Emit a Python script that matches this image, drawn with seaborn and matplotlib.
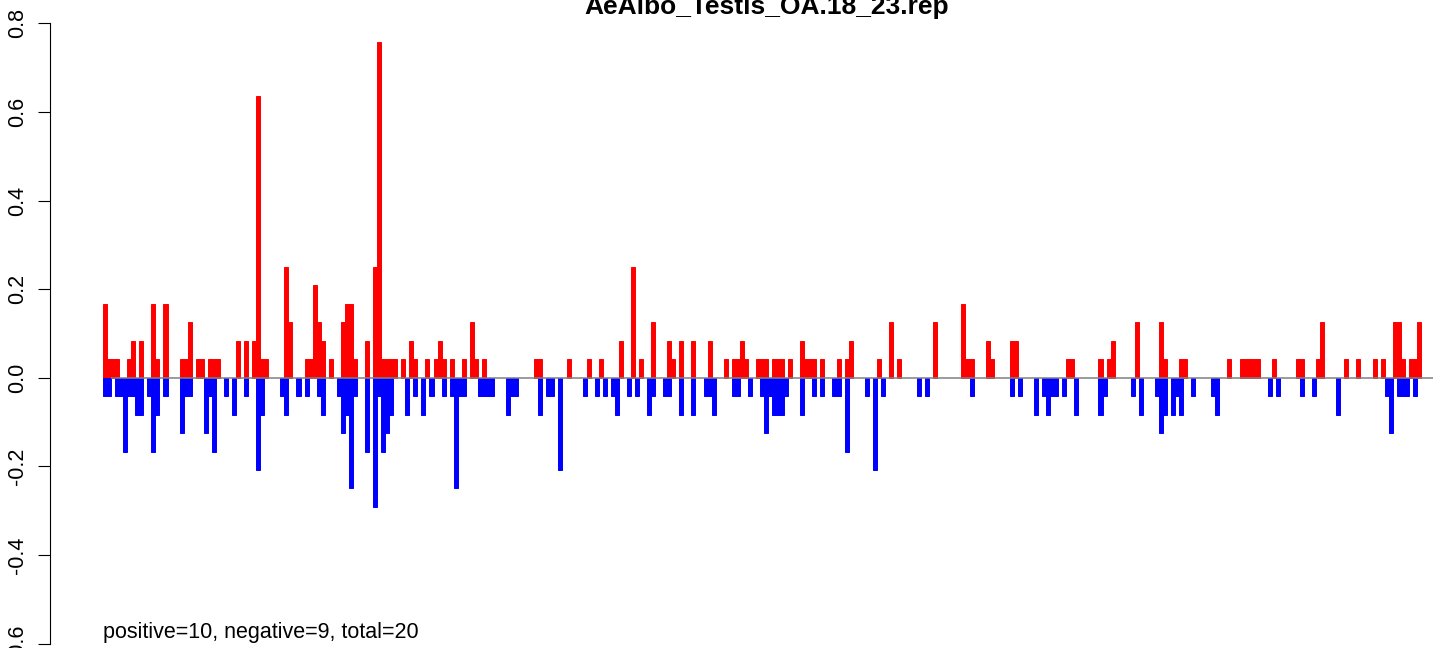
import numpy as np
import pandas as pd
import matplotlib
matplotlib.use("Agg")
import matplotlib.pyplot as plt
import seaborn as sns

plt.rcParams["font.family"] = ["Liberation Sans", "DejaVu Sans"]
plt.rcParams["axes.unicode_minus"] = False

# ---------------- data ----------------
title = "AeAlbo_Testis_OA.18_23.rep"
note = "positive=10, negative=9, total=20"
n_positions = 329
y_ticks = [-0.6, -0.4, -0.2, 0.0, 0.2, 0.4, 0.6, 0.8]
y_tick_labels = ["-0.6", "-0.4", "-0.2", "0.0", "0.2", "0.4", "0.6", "0.8"]

# positive-strand values (position index, value)
pos_idx = [0, 1, 2, 3, 6, 7, 9, 12, 13, 15,
           19, 20, 21, 23, 24, 26, 27, 28, 33, 35,
           37, 38, 39, 40, 45, 46, 50, 51, 52, 53,
           54, 56, 59, 60, 61, 62, 65, 67, 68, 69,
           70, 71, 72, 74, 76, 77, 80, 82, 83, 84,
           86, 89, 91, 92, 94, 107, 108, 115, 120, 123,
           128, 131, 133, 136, 140, 141, 143, 146, 150, 154,
           156, 157, 158, 159, 162, 163, 164, 166, 167, 168,
           170, 173, 174, 175, 176, 178, 182, 184, 185, 192,
           195, 197, 206, 213, 214, 215, 219, 220, 225, 226,
           239, 240, 247, 249, 250, 256, 262, 263, 267, 268,
           279, 282, 283, 284, 285, 286, 290, 296, 297, 301,
           302, 308, 311, 315, 317, 320, 321, 322, 324, 325,
           326]
pos_val = [0.1667, 0.0417, 0.0417, 0.0417, 0.0417, 0.0833, 0.0833, 0.1667, 0.0417, 0.1667,
           0.0417, 0.0417, 0.125, 0.0417, 0.0417, 0.0417, 0.0417, 0.0417, 0.0833, 0.0833,
           0.0833, 0.635, 0.0417, 0.0417, 0.25, 0.125, 0.0417, 0.0417, 0.2083, 0.125,
           0.0833, 0.0417, 0.125, 0.1667, 0.1667, 0.0417, 0.0833, 0.25, 0.758, 0.0417,
           0.0417, 0.0417, 0.0417, 0.0417, 0.0833, 0.0417, 0.0417, 0.0417, 0.0833, 0.0417,
           0.0417, 0.0417, 0.125, 0.0417, 0.0417, 0.0417, 0.0417, 0.0417, 0.0417, 0.0417,
           0.0833, 0.25, 0.0417, 0.125, 0.0833, 0.0417, 0.0833, 0.0833, 0.0833, 0.0417,
           0.0417, 0.0417, 0.0833, 0.0417, 0.0417, 0.0417, 0.0417, 0.0417, 0.0417, 0.0417,
           0.0417, 0.0833, 0.0417, 0.0417, 0.0417, 0.0417, 0.0417, 0.0417, 0.0833, 0.0417,
           0.125, 0.0417, 0.125, 0.1667, 0.0417, 0.0417, 0.0833, 0.0417, 0.0833, 0.0833,
           0.0417, 0.0417, 0.0417, 0.0417, 0.0833, 0.125, 0.125, 0.0417, 0.0417, 0.0417,
           0.0417, 0.0417, 0.0417, 0.0417, 0.0417, 0.0417, 0.0417, 0.0417, 0.0417, 0.0417,
           0.125, 0.0417, 0.0417, 0.0417, 0.0417, 0.125, 0.125, 0.0417, 0.0417, 0.0417,
           0.125]

# negative-strand values (position index, value)
neg_idx = [0, 1, 3, 4, 5, 6, 7, 8, 9, 11,
           12, 13, 15, 19, 20, 21, 25, 26, 27, 30,
           32, 35, 38, 39, 44, 45, 48, 50, 53, 54,
           58, 59, 60, 61, 62, 65, 67, 68, 69, 70,
           71, 75, 77, 79, 81, 84, 86, 87, 88, 89,
           93, 94, 95, 96, 100, 101, 102, 108, 110, 111,
           113, 119, 122, 124, 126, 127, 130, 132, 135, 136,
           139, 140, 143, 146, 149, 150, 151, 156, 157, 160,
           163, 164, 165, 166, 167, 168, 169, 173, 176, 178,
           181, 182, 184, 189, 191, 193, 202, 204, 215, 225,
           227, 231, 233, 234, 235, 236, 238, 241, 247, 248,
           255, 257, 261, 262, 263, 265, 266, 267, 270, 275,
           276, 289, 291, 297, 300, 306, 318, 319, 321, 322,
           323, 325]
neg_val = [-0.0417, -0.0417, -0.0417, -0.0417, -0.1667, -0.0417, -0.0417, -0.0833, -0.0833, -0.0417,
           -0.1667, -0.0833, -0.0417, -0.125, -0.0417, -0.0417, -0.125, -0.0417, -0.1667, -0.0417,
           -0.0833, -0.0417, -0.2083, -0.0833, -0.0417, -0.0833, -0.0417, -0.0417, -0.0417, -0.0833,
           -0.0417, -0.125, -0.0833, -0.25, -0.0417, -0.1667, -0.2917, -0.0417, -0.1667, -0.125,
           -0.0833, -0.0833, -0.0417, -0.0833, -0.0417, -0.0417, -0.0417, -0.25, -0.0417, -0.0417,
           -0.0417, -0.0417, -0.0417, -0.0417, -0.0833, -0.0417, -0.0417, -0.0833, -0.0417, -0.0417,
           -0.2083, -0.0417, -0.0417, -0.0417, -0.0417, -0.0833, -0.0417, -0.0417, -0.0833, -0.0417,
           -0.0417, -0.0417, -0.0833, -0.0833, -0.0417, -0.0417, -0.0833, -0.0417, -0.0417, -0.0417,
           -0.0417, -0.125, -0.0417, -0.0833, -0.0833, -0.0833, -0.0417, -0.0833, -0.0417, -0.0417,
           -0.0417, -0.0417, -0.1667, -0.0417, -0.2083, -0.0417, -0.0417, -0.0417, -0.0417, -0.0417,
           -0.0417, -0.0833, -0.0417, -0.0833, -0.0417, -0.0417, -0.0417, -0.0833, -0.0833, -0.0417,
           -0.0417, -0.0833, -0.0417, -0.125, -0.0833, -0.0833, -0.0417, -0.0833, -0.0417, -0.0417,
           -0.0833, -0.0417, -0.0417, -0.0417, -0.0417, -0.0833, -0.0417, -0.125, -0.0417, -0.0417,
           -0.0417, -0.0417]

# ---------------- build table ----------------
plus = np.zeros(n_positions)
plus[pos_idx] = pos_val
minus = np.zeros(n_positions)
minus[neg_idx] = neg_val
df = pd.DataFrame({"pos": np.arange(n_positions), "plus": plus, "minus": minus})

# ---------------- figure ----------------
W, H = 1433, 648
fig = plt.figure(figsize=(W / 100, H / 100), dpi=100)
ax = fig.add_axes([50 / W, 0, 1432 / W, 1])

sns.barplot(data=df, x="pos", y="plus", color="#FF0000", saturation=1, width=1,
            errorbar=None, linewidth=0, ax=ax)
sns.barplot(data=df, x="pos", y="minus", color="#0000FF", saturation=1, width=1,
            errorbar=None, linewidth=0, ax=ax)
for p in ax.patches:
    if p.get_height() == 0:
        p.set_visible(False)
    else:
        p.set_edgecolor(p.get_facecolor())
        p.set_linewidth(0.7)

pad = 0.04 * n_positions
ax.set_xlim(-0.5 - pad, n_positions - 0.5 + pad)
ax.set_ylim(-0.6101, 0.8526)

# zero reference line
ax.hlines(0, 1.5, n_positions + pad, color="#808080", lw=1.1, zorder=5)

ax.set_xticks([])
ax.set_xlabel("")
ax.set_ylabel("")
for s in ["top", "right", "bottom"]:
    ax.spines[s].set_visible(False)
ax.spines["left"].set_bounds(-0.6, 0.8)
ax.spines["left"].set_linewidth(0.8)
ax.set_yticks(y_ticks)
ax.set_yticklabels(y_tick_labels)
ax.tick_params(axis="y", length=9, width=0.8, pad=6.5, labelsize=15.5, labelrotation=90)
for lab in ax.get_yticklabels():
    lab.set_va("center")

ax.text(-0.5, 1 - 638 / H, note, transform=ax.get_xaxis_transform(),
        ha="left", va="baseline", fontsize=15.5)
fig.text(767 / W, 1 - 14 / H, title, ha="center", va="baseline",
         fontsize=19, fontweight="bold")

fig.savefig("out.png", dpi=100)
